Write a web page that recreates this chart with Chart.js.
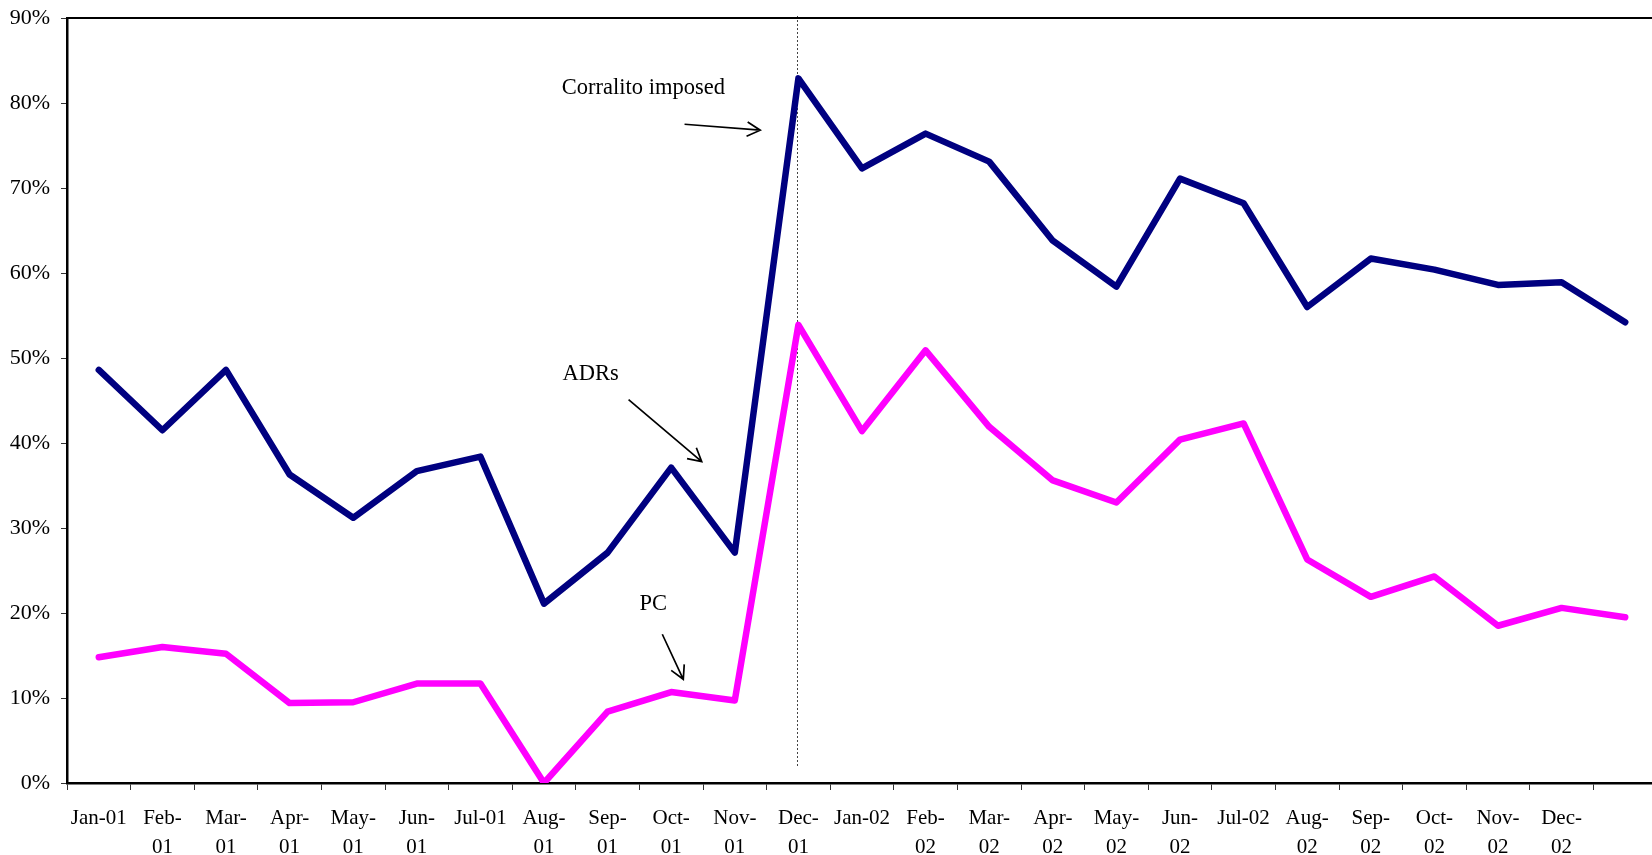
<!DOCTYPE html>
<html lang="en">
<head>
  <meta charset="UTF-8">
  <title>ADRs and PC</title>
  <script src="https://cdn.jsdelivr.net/npm/chart.js"></script>
  <style>
    html, body { margin: 0; padding: 0; overflow: hidden; background: #fff; }
  </style>
</head>
<body>
  <canvas id="chart" width="1657" height="855"></canvas>

  <script>
    const months = [
      'Jan-01', ['Feb-', '01'], ['Mar-', '01'], ['Apr-', '01'], ['May-', '01'], ['Jun-', '01'],
      'Jul-01', ['Aug-', '01'], ['Sep-', '01'], ['Oct-', '01'], ['Nov-', '01'], ['Dec-', '01'],
      'Jan-02', ['Feb-', '02'], ['Mar-', '02'], ['Apr-', '02'], ['May-', '02'], ['Jun-', '02'],
      'Jul-02', ['Aug-', '02'], ['Sep-', '02'], ['Oct-', '02'], ['Nov-', '02'], ['Dec-', '02'], ''
    ];
    const adrs = [48.6, 41.5, 48.6, 36.3, 31.2, 36.7, 38.4, 21.1, 27.1, 37.1, 27.1, 82.9,
                  72.3, 76.4, 73.1, 63.8, 58.4, 71.1, 68.2, 56.0, 61.7, 60.4, 58.6, 58.9, 54.2];
    const pc = [14.8, 16.0, 15.2, 9.4, 9.5, 11.7, 11.7, 0.0, 8.4, 10.7, 9.7, 53.9,
                41.4, 50.9, 41.9, 35.6, 33.0, 40.4, 42.3, 26.3, 21.9, 24.3, 18.5, 20.6, 19.5];

    // notes: text position and arrow ends, in month index / percent
    const notes = [
      { text: 'Corralito imposed', at: [7.28, 81.7], from: [9.21, 77.5], to: [10.40, 76.8] },
      { text: 'ADRs', at: [7.29, 48.1], from: [8.33, 45.1], to: [9.48, 37.8] },
      { text: 'PC', at: [8.50, 21.0], from: [8.86, 17.5], to: [9.19, 12.2] }
    ];
    const markerMonth = 11; // Dec-01, corralito

    const serif = "'Liberation Serif', 'DejaVu Serif', serif";

    const extras = {
      id: 'extras',
      beforeDatasetsDraw(chart) {
        const { ctx, chartArea, scales: { x, y } } = chart;
        const px = Math.round(x.getPixelForValue(markerMonth)) - 0.5;
        ctx.save();
        ctx.strokeStyle = '#444';
        ctx.lineWidth = 1;
        ctx.setLineDash([2, 2]);
        ctx.beginPath();
        ctx.moveTo(px, chartArea.top - 2);
        ctx.lineTo(px, y.getPixelForValue(2));
        ctx.stroke();
        ctx.restore();
      },
      afterDraw(chart) {
        const { ctx, chartArea, scales: { x, y } } = chart;
        ctx.save();
        // top border of plot
        ctx.strokeStyle = '#000';
        ctx.lineWidth = 2;
        ctx.beginPath();
        ctx.moveTo(chartArea.left - 1, chartArea.top);
        ctx.lineTo(chartArea.right, chartArea.top);
        ctx.stroke();

        ctx.fillStyle = '#000';
        ctx.font = '22.5px ' + serif;
        ctx.textBaseline = 'middle';
        ctx.textAlign = 'left';
        ctx.lineWidth = 1.7;
        notes.forEach(n => {
          ctx.fillText(n.text, x.getPixelForValue(n.at[0]), y.getPixelForValue(n.at[1]));
          const x1 = x.getPixelForValue(n.from[0]), y1 = y.getPixelForValue(n.from[1]);
          const x2 = x.getPixelForValue(n.to[0]), y2 = y.getPixelForValue(n.to[1]);
          const a = Math.atan2(y2 - y1, x2 - x1);
          ctx.beginPath();
          ctx.moveTo(x1, y1);
          ctx.lineTo(x2, y2);
          ctx.moveTo(x2 - 15 * Math.cos(a - 0.5), y2 - 15 * Math.sin(a - 0.5));
          ctx.lineTo(x2, y2);
          ctx.lineTo(x2 - 15 * Math.cos(a + 0.5), y2 - 15 * Math.sin(a + 0.5));
          ctx.stroke();
        });
        ctx.restore();
      }
    };

    new Chart(document.getElementById('chart'), {
      type: 'line',
      data: {
        labels: months,
        datasets: [
          { label: 'ADRs', data: adrs, borderColor: '#000080', borderWidth: 6.5,
            pointRadius: 0, tension: 0, borderJoinStyle: 'round', borderCapStyle: 'round' },
          { label: 'PC', data: pc, borderColor: '#FF00FF', borderWidth: 6.5,
            pointRadius: 0, tension: 0, borderJoinStyle: 'round', borderCapStyle: 'round' }
        ]
      },
      options: {
        responsive: false,
        animation: false,
        events: [],
        layout: { padding: { top: 18, right: 0, left: 0, bottom: 0 } },
        plugins: {
          legend: { display: false },
          tooltip: { enabled: false }
        },
        scales: {
          x: {
            offset: true,
            afterFit: s => { s.height = 72; s.paddingLeft = 0; s.paddingRight = 0; },
            grid: { offset: true, drawOnChartArea: false, tickLength: 7, color: '#333', lineWidth: 1 },
            border: { color: '#000', width: 2.5 },
            ticks: {
              autoSkip: false, maxRotation: 0, minRotation: 0, padding: 14, color: '#000',
              font: { family: serif, size: 21, lineHeight: 1.38 }
            }
          },
          y: {
            min: 0,
            max: 90,
            afterFit: s => { s.width = 67; s.paddingTop = 0; s.paddingBottom = 0; },
            grid: { drawOnChartArea: false, tickLength: 6, color: '#333', lineWidth: 1 },
            border: { color: '#000', width: 2.5 },
            ticks: {
              stepSize: 10, padding: 11, color: '#000',
              font: { family: serif, size: 22 },
              callback: v => v + '%'
            }
          }
        }
      },
      plugins: [extras]
    });
  </script>
</body>
</html>
